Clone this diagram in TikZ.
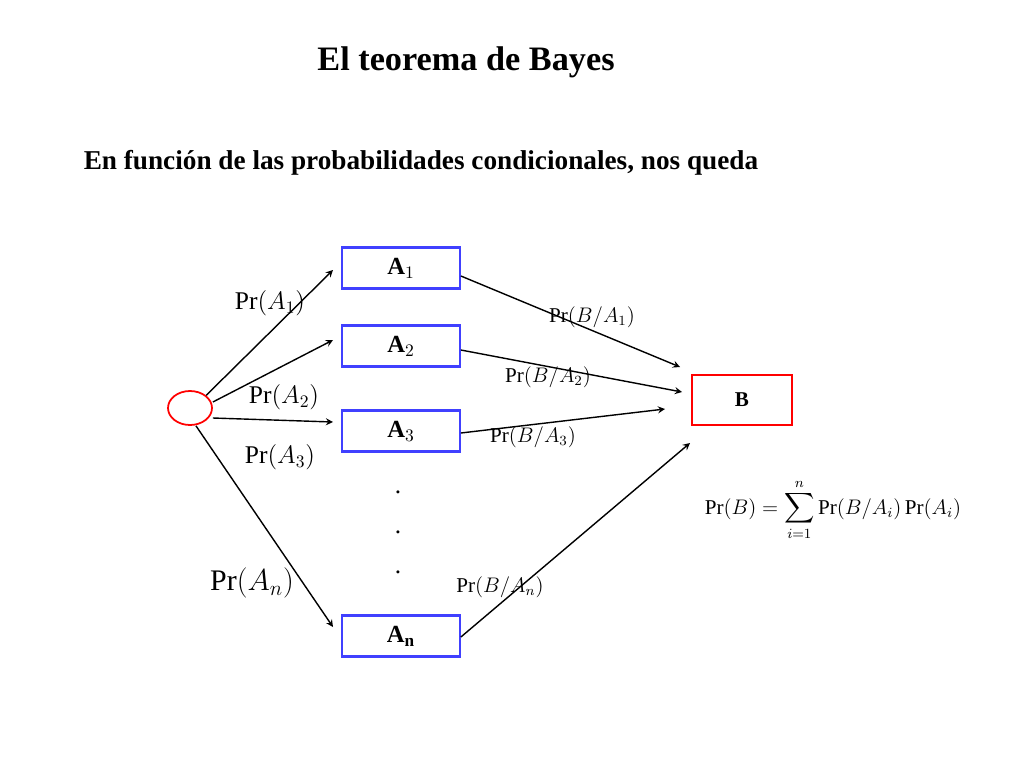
\documentclass[tikz,border=0pt]{standalone}
\usepackage{fontspec}
\setmainfont{Liberation Serif}
\usepackage{amsmath}
\usetikzlibrary{positioning, shapes.geometric}

\begin{document}
\begin{tikzpicture}[>=stealth, x=0.02cm, y=-0.02cm, thick,
			ev/.style={draw=blue!75!white, line width=1.3pt, minimum width=2.35cm, minimum height=0.82cm, font=\fontsize{14}{16}\selectfont\bfseries},
			lab/.style={font=\fontsize{14.5}{16}\selectfont},
			slab/.style={font=\fontsize{12}{14}\selectfont}]
			\useasboundingbox (0,0) rectangle (1024,768);
			\node[font=\fontsize{19.5}{22}\selectfont\bfseries] (title) at (466,62) {El teorema de Bayes};
			\node[font=\fontsize{15.5}{18}\selectfont\bfseries] (sub) at (421,163) {En función de las probabilidades condicionales, nos queda};
			
			%Nodos:
			\node[draw=red, line width=1pt, ellipse, minimum width=0.88cm, minimum height=0.68cm] (O) at (190,408) {};
			\node[ev] (A1) at (401,268) {A$_1$};
			\node[ev] (A2) at (401,346) {A$_2$};
			\node[ev] (A3) at (401,431) {A$_3$};
			\node[ev] (An) at (401,636) {A$_\text{n}$};
			\node[ev, draw=red, minimum width=2cm, minimum height=1cm, font=\fontsize{12}{14}\selectfont\bfseries] (B) at (742,400) {B};
			\node[font=\Large] (d1) at (398,492) {.};
			\node[font=\Large] (d2) at (398,532) {.};
			\node[font=\Large] (d3) at (398,572) {.};
			
			\coordinate (a1) at (333,270);  \coordinate (b1) at (680,367);
			\coordinate (a2) at (333,340);  \coordinate (b2) at (682,392);
			\coordinate (a3) at (333,422);  \coordinate (b3) at (665,409);
			\coordinate (an) at (333,627);  \coordinate (bn) at (690,443);
			
			%Flechas:
			\path[->, line width=0.8pt]
			(O.north east) edge (a1)
			(O.east) ++(0,-6) edge (a2)
			(O.east) ++(0,10) edge (a3)
			(O.south) ++(6,0) edge (an)
			(A1.east) ++(0,8) edge (b1)
			(A2.east) ++(0,4) edge (b2)
			(A3.east) ++(0,2) edge (b3)
			(An.east) ++(0,1) edge (bn);
			
			%Etiquetas:
			\node[lab] (p1) at (270,303) {Pr$(A_1)$};
			\node[lab] (p2) at (284,397) {Pr$(A_2)$};
			\node[lab] (p3) at (280,457) {Pr$(A_3)$};
			\node[font=\fontsize{17}{19}\selectfont] (pn) at (252,583) {Pr$(A_n)$};
			\node[slab] (q1) at (592,317) {Pr$(B/A_1)$};
			\node[slab] (q2) at (548,377) {Pr$(B/A_2)$};
			\node[slab] (q3) at (533,437) {Pr$(B/A_3)$};
			\node[slab] (qn) at (500,587) {Pr$(B/A_n)$};
			\node[slab] (bayes) at (833,510) {Pr$(B)=\displaystyle\sum_{i=1}^{n}\,$Pr$(B/A_i)\,$Pr$(A_i)$};
		\end{tikzpicture}
\end{document}
